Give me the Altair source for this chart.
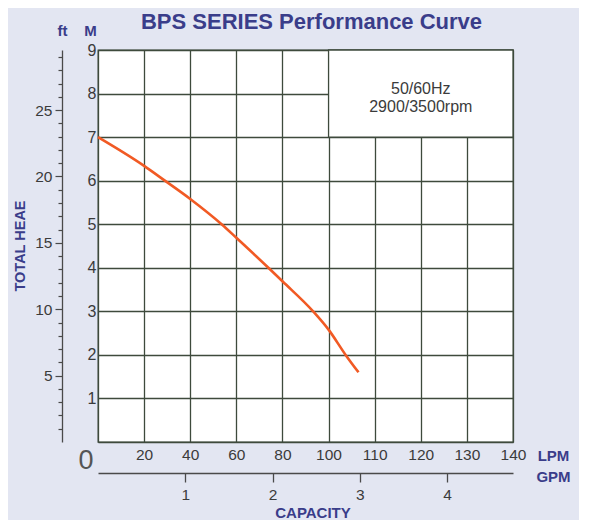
import altair as alt
import pandas as pd

# ---- data ----
# x positions on the chart's own (evenly spaced) capacity scale: one grid step = 20
flow = [0, 20, 29, 40, 53.6, 60, 73.9, 80, 93.3, 100, 107.4, 113]
head_m = [7.0, 6.34, 6.0, 5.58, 5.0, 4.69, 4.0, 3.69, 3.0, 2.58, 2.0, 1.6]

lpm_ticks = [0, 20, 40, 60, 80, 100, 120, 140, 160, 180]
lpm_labels = ["0", "20", "40", "60", "80", "100", "110", "120", "130", "140"]
m_ticks = [0, 1, 2, 3, 4, 5, 6, 7, 8, 9]
ft_ticks = list(range(1, 30))
gpm_ticks = [1, 2, 3, 4]

box_x = [100, 180]
box_y = [7, 9]
box_lines = ["50/60Hz", "2900/3500rpm"]
box_line_x = [140, 140]
box_line_y = [8.1, 7.69]

X_DOM = [0, 180]
Y_DOM = [0, 9]
FT_DOM = [0, 9 * 3.28084]
GPM_DOM = [0, 4.755]

GRID = "#3e4a3c"
NAVY = "#3a3d8a"
LABEL = "#3b3b3b"
CURVE = "#f15a24"
FONT = "Liberation Sans"

W, H = 415, 392

lpm_expr = " : ".join(
    [f"datum.value == {v} ? '{l}'" for v, l in zip(lpm_ticks, lpm_labels)]
) + " : ''"

curve_df = pd.DataFrame({"flow": flow, "head": head_m})

x_axis = alt.Axis(
    values=lpm_ticks, labelExpr=lpm_expr, grid=True, gridColor=GRID, gridWidth=1.3,
    gridOpacity=1, ticks=False, domain=False, labelFont=FONT,
    labelColor={"condition": {"test": "datum.value == 0", "value": "#555555"}, "value": LABEL},
    labelFontSize={"condition": {"test": "datum.value == 0", "value": 27}, "value": 15.5},
    labelAlign={"condition": {"test": "datum.value == 0", "value": "right"}, "value": "center"},
    labelOffset={"condition": {"test": "datum.value == 0", "value": -5}, "value": 0},
    labelPadding=5, title="LPM", titleFont=FONT, titleFontSize=15, titleFontWeight="bold",
    titleColor=NAVY, titleX=455, titleY=13, titleBaseline="middle", titleAlign="center",
)

y_axis = alt.Axis(
    values=m_ticks, labelExpr="datum.value == 0 ? '' : datum.label", grid=True,
    gridColor=GRID, gridWidth=1.3, gridOpacity=1, ticks=False, domain=False,
    labelFont=FONT, labelColor=LABEL, labelFontSize=16, labelPadding=2,
    title="M", titleAngle=0, titleFont=FONT, titleFontSize=15, titleFontWeight="bold",
    titleColor=NAVY, titleX=-8, titleY=-20, titleBaseline="middle", titleAlign="center",
)

xs = alt.Scale(domain=X_DOM, nice=False, zero=False)
ys = alt.Scale(domain=Y_DOM, nice=False, zero=False)

curve = alt.Chart(curve_df).mark_line(
    color=CURVE, strokeWidth=2.6, interpolate="monotone"
).encode(
    x=alt.X("flow:Q", scale=xs, axis=x_axis),
    y=alt.Y("head:Q", scale=ys, axis=y_axis),
)

box = alt.Chart(pd.DataFrame({"x": [box_x[0]], "x2": [box_x[1]], "y": [box_y[0]], "y2": [box_y[1]]})).mark_rect(
    fill="white", stroke=GRID, strokeWidth=1.3
).encode(x="x:Q", x2="x2:Q", y="y:Q", y2="y2:Q")

box_text = alt.Chart(pd.DataFrame({"x": box_line_x, "y": box_line_y, "t": box_lines})).mark_text(
    font=FONT, fontSize=16, color=LABEL, align="center", baseline="middle"
).encode(x="x:Q", y="y:Q", text="t:N")

side = alt.Chart(pd.DataFrame({"t": ["TOTAL HEAE"]})).mark_text(
    font=FONT, fontSize=14.5, fontWeight="bold", color=NAVY, angle=270,
    align="center", baseline="middle"
).encode(x=alt.value(-77), y=alt.value(196), text="t:N")

cap = alt.Chart(pd.DataFrame({"t": ["CAPACITY"]})).mark_text(
    font=FONT, fontSize=15, fontWeight="bold", color=NAVY, align="center", baseline="middle"
).encode(x=alt.value(215), y=alt.value(463), text="t:N")

main = alt.layer(curve, box, box_text, side, cap)

ft_layer = alt.Chart(pd.DataFrame({"ft": ft_ticks})).mark_tick(opacity=0).encode(
    y=alt.Y("ft:Q", scale=alt.Scale(domain=FT_DOM, nice=False, zero=False), axis=alt.Axis(
        orient="left", offset=36, values=ft_ticks,
        labelExpr="datum.value % 5 == 0 ? datum.label : ''",
        grid=False, domain=True, domainColor="#4a4a4a", domainWidth=1.3,
        tickColor="#4a4a4a", tickWidth=1.2,
        tickSize={"condition": {"test": "datum.value % 5 == 0", "value": 7}, "value": 4},
        labelFont=FONT, labelFontSize=15.5, labelColor=LABEL, labelPadding=3,
        title="ft", titleAngle=0, titleFont=FONT, titleFontSize=15, titleFontWeight="bold",
        titleColor=NAVY, titleX=0, titleY=-20, titleBaseline="middle", titleAlign="center",
    ))
)

gpm_layer = alt.Chart(pd.DataFrame({"g": gpm_ticks})).mark_tick(opacity=0).encode(
    x=alt.X("g:Q", scale=alt.Scale(domain=GPM_DOM, nice=False, zero=False), axis=alt.Axis(
        orient="bottom", offset=31, values=gpm_ticks, grid=False,
        domain=True, domainColor="#4a4a4a", domainWidth=1.3,
        tickColor="#4a4a4a", tickWidth=1.3, tickSize=9,
        labelFont=FONT, labelFontSize=15.5, labelColor=LABEL, labelPadding=5,
        title="GPM", titleFont=FONT, titleFontSize=15, titleFontWeight="bold",
        titleColor=NAVY, titleX=455, titleY=3, titleBaseline="middle", titleAlign="center",
    ))
)

chart = alt.layer(main, ft_layer, gpm_layer).resolve_scale(
    x="independent", y="independent"
).properties(
    width=W, height=H,
    padding={"left": 90, "top": 42, "right": 66, "bottom": 78},
    autosize=alt.AutoSizeParams(type="none"),
    background="#e3e6f2",
    title=alt.Title(
        "BPS SERIES Performance Curve", font=FONT, fontSize=22, fontWeight="bold",
        color=NAVY, anchor="middle", frame="group", offset=-11, dx=6,
    ),
).configure_view(fill="white", stroke=GRID, strokeWidth=1.3)

chart.save("out.html", embed_options={"renderer": "svg", "actions": False})
